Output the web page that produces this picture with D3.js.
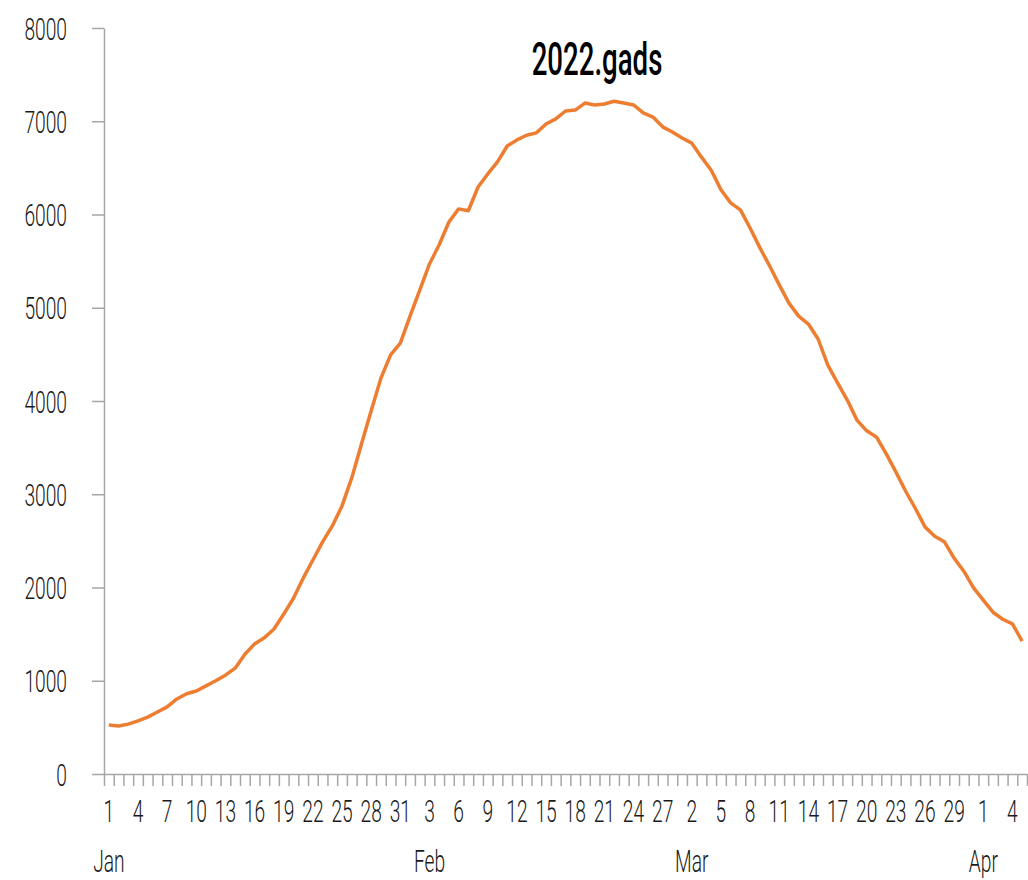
<!DOCTYPE html>
<html>
<head>
<meta charset="utf-8">
<script src="https://cdn.jsdelivr.net/npm/d3@7"></script>
<style>
  body { margin: 0; background: #fff; }
  svg text { font-family: Roboto, "Liberation Sans", sans-serif; font-weight: 300; fill: #1a1a1a; }
</style>
</head>
<body>
<div id="chart"></div>
<script>
// Daily values, 1 Jan 2022 - 5 Apr 2022
const startDate = new Date(2022, 0, 1);
const endDate = new Date(2022, 3, 6);
const janValues = [525, 515, 535, 570, 610, 665, 720, 805, 860, 890,
  945, 1000, 1060, 1135, 1285, 1395, 1460, 1555, 1715, 1885,
  2100, 2295, 2490, 2660, 2875, 3175, 3540, 3895, 4245, 4495, 4620];
const febValues = [4910, 5190, 5470, 5675, 5920, 6060, 6040, 6295, 6435, 6565,
  6735, 6800, 6850, 6875, 6970, 7025, 7110, 7120, 7195, 7175,
  7185, 7215, 7195, 7175, 7090, 7045, 6940, 6885];
const marValues = [6820, 6765, 6615, 6475, 6265, 6125, 6050, 5855, 5645, 5450,
  5245, 5050, 4910, 4825, 4665, 4385, 4195, 4010, 3795, 3680,
  3615, 3435, 3240, 3035, 2850, 2650, 2550, 2490, 2315, 2175, 1995];
const aprValues = [1865, 1735, 1660, 1610, 1425];
const yTicks = [0, 1000, 2000, 3000, 4000, 5000, 6000, 7000, 8000];
const monthNames = ["Jan", "Feb", "Mar", "Apr"];
const title = "2022.gads";

const values = [...janValues, ...febValues, ...marValues, ...aprValues];
const days = d3.timeDay.range(startDate, endDate);
const dataset = days.map((d, i) => ({ i: i, date: d, value: values[i] }));

const width = 1028;
const height = 880;
const plotLeft = 104, plotRight = 1027, plotTop = 28, plotBottom = 774;
const sx = 0.62; // narrow the glyphs, the source uses a condensed face
const axisColor = "#a6a6a6";

const svg = d3.select("#chart")
  .append("svg")
  .attr("width", width)
  .attr("height", height);

const xScale = d3.scaleBand()
  .domain(dataset.map(d => d.i))
  .range([plotLeft, plotRight]);

const xEdge = d3.scaleLinear()
  .domain([0, dataset.length])
  .range([plotLeft, plotRight]);

const yScale = d3.scaleLinear()
  .domain([0, 8000])
  .range([plotBottom, plotTop]);

// y axis
const yAxis = svg.append("g")
  .attr("transform", `translate(${plotLeft},0)`)
  .call(d3.axisLeft(yScale).tickValues(yTicks).tickSize(12).tickSizeOuter(0).tickFormat(d3.format("d")));
yAxis.select(".domain").attr("stroke", axisColor).attr("stroke-width", 1.5);
yAxis.selectAll(".tick line").attr("stroke", axisColor).attr("stroke-width", 1.5);
yAxis.selectAll(".tick text")
  .attr("x", -37 / sx)
  .attr("dy", "0.36em")
  .attr("transform", `scale(${sx},1)`)
  .style("font-size", "31px")
  .style("fill", "#1a1a1a");

// x axis: a tick between every day
const xTicks = svg.append("g")
  .attr("transform", `translate(0,${plotBottom})`)
  .call(d3.axisBottom(xEdge).tickValues(d3.range(dataset.length + 1)).tickSize(12).tickSizeOuter(0).tickFormat(""));
xTicks.select(".domain").attr("stroke", axisColor).attr("stroke-width", 1.5);
xTicks.selectAll(".tick line").attr("stroke", axisColor).attr("stroke-width", 1.5);

// day labels every third day
const labelled = dataset.filter(d => d.i % 3 === 0);
const xLabels = svg.append("g")
  .attr("transform", `translate(0,${plotBottom})`)
  .call(d3.axisBottom(xScale).tickValues(labelled.map(d => d.i)).tickSize(0)
    .tickFormat(i => dataset[i].date.getDate()));
xLabels.select(".domain").remove();
xLabels.selectAll(".tick text")
  .attr("y", 48)
  .attr("dy", 0)
  .attr("transform", `scale(${sx},1)`)
  .style("font-size", "31px")
  .style("fill", "#1a1a1a");

// month labels under the first labelled day of each month
let lastMonth = -1;
const monthMarks = [];
labelled.forEach(d => {
  if (d.date.getMonth() !== lastMonth) {
    lastMonth = d.date.getMonth();
    monthMarks.push({ i: d.i, name: monthNames[lastMonth] });
  }
});
svg.append("g").selectAll("text")
  .data(monthMarks)
  .enter()
  .append("text")
  .attr("transform", d => `translate(${xScale(d.i) + xScale.bandwidth() / 2},${plotBottom + 98}) scale(${sx},1)`)
  .attr("text-anchor", "middle")
  .style("font-size", "31px")
  .text(d => d.name);

// line
const line = d3.line()
  .x(d => xScale(d.i) + xScale.bandwidth() / 2)
  .y(d => yScale(d.value));

svg.append("path")
  .datum(dataset)
  .attr("fill", "none")
  .attr("stroke", "#ED7D31")
  .attr("stroke-width", 3.5)
  .attr("stroke-linejoin", "round")
  .attr("d", line);

// title
svg.append("text")
  .attr("transform", `translate(597,75) scale(0.6,1)`)
  .attr("text-anchor", "middle")
  .style("font-size", "46px")
  .style("font-weight", "500")
  .style("fill", "#000")
  .text(title);
</script>
</body>
</html>
